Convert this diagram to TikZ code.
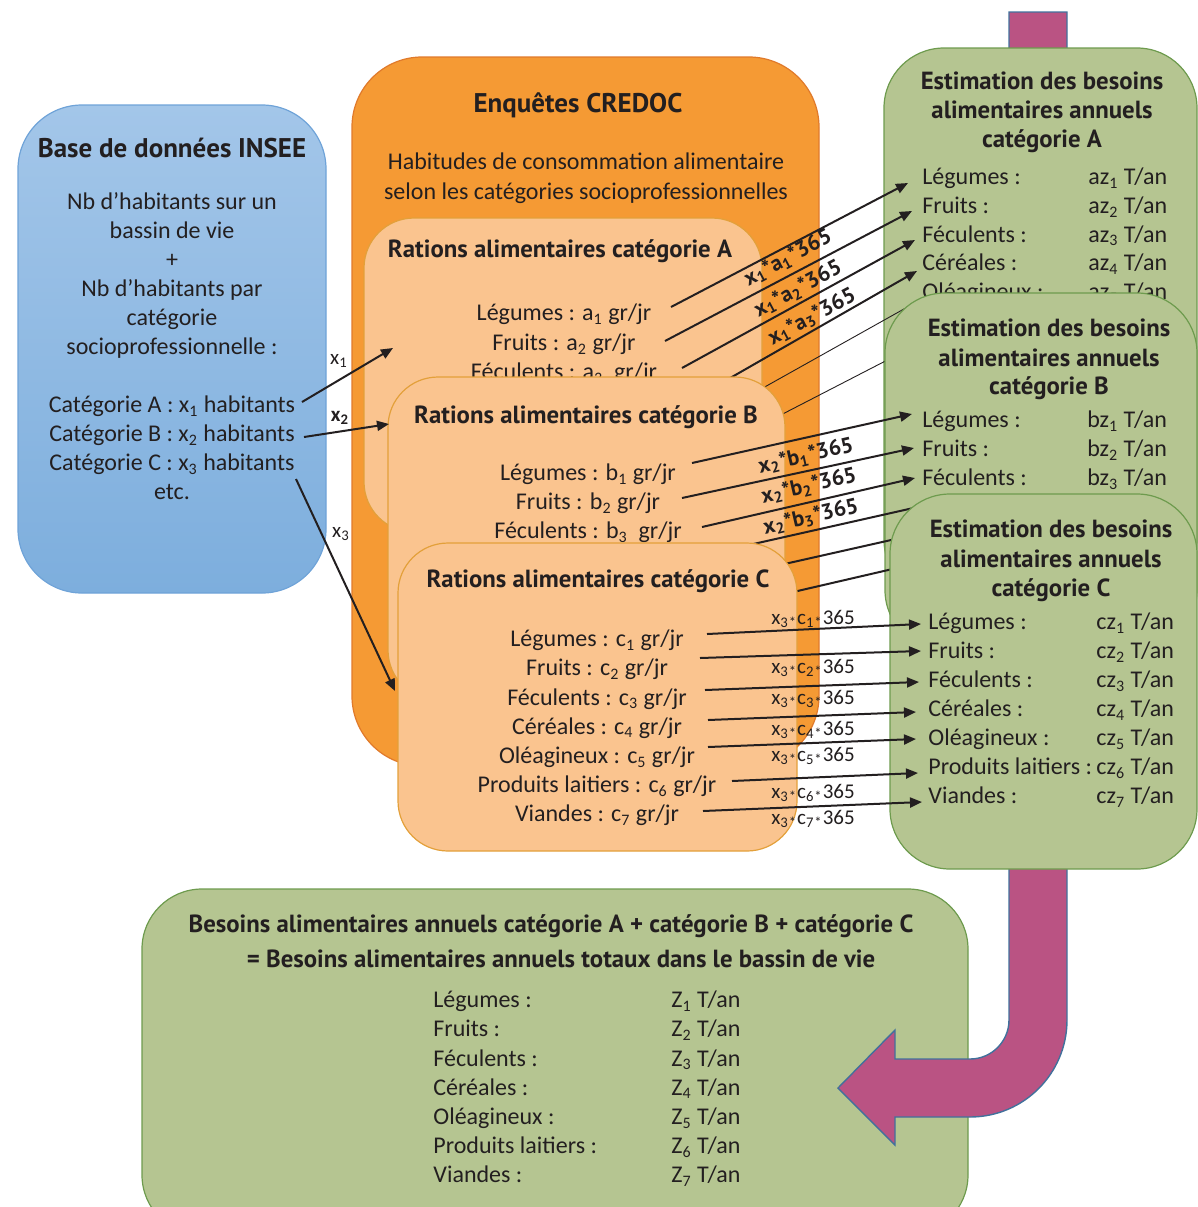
\documentclass[tikz,border=0pt]{standalone}
\usepackage{fontspec}
\setmainfont{Carlito}
\newfontfamily\hfont{PT Sans}
\usetikzlibrary{arrows.meta}
\definecolor{txt}{HTML}{231F20}
\definecolor{btop}{HTML}{A3C6E9}
\definecolor{bbot}{HTML}{7DAEDD}
\definecolor{bborder}{HTML}{6FA3D8}
\definecolor{ofill}{HTML}{F59A34}
\definecolor{oborder}{HTML}{E07A2B}
\definecolor{lofill}{HTML}{FAC48F}
\definecolor{loborder}{HTML}{E3A03A}
\definecolor{gfill}{HTML}{B5C591}
\definecolor{gborder}{HTML}{6E9B4E}
\definecolor{pfill}{HTML}{BA5383}
\definecolor{pborder}{HTML}{41719C}
\newcommand{\sbs}[1]{\textsubscript{#1}}
\begin{document}
\begin{tikzpicture}[x=0.5pt,y=-0.5pt,
  body/.style={font=\fontsize{12}{14.5}\selectfont,text=txt,inner sep=0pt,anchor=mid,yshift=-1.5pt},
  bodyl/.style={body,anchor=mid west},
  hd/.style={font=\hfont\bfseries\fontsize{12.4}{14.5}\selectfont,text=txt,inner sep=0pt,anchor=mid,yshift=-2.5pt},
  hdbig/.style={hd,font=\hfont\bfseries\fontsize{13.5}{15}\selectfont},
  lblA/.style={font=\hfont\bfseries\fontsize{11}{12}\selectfont,text=txt,inner sep=0pt},
  lblC/.style={font=\fontsize{10.5}{11}\selectfont,text=txt,inner sep=0pt},
  gbox/.style={draw=gborder,fill=gfill,line width=0.6pt,rounded corners=30pt},
  lobox/.style={draw=loborder,fill=lofill,line width=0.6pt,rounded corners=25pt},
  arr/.style={draw=txt,line width=1pt,-{Triangle[length=6pt,width=5pt]}},
  ln/.style={draw=txt,line width=1pt},
  thinln/.style={draw=txt,line width=0.45pt}]
\useasboundingbox (0,0) rectangle (1198,1207);
\clip (0,0) rectangle (1198,1207);

% ---------- bottom box ----------
\path[gbox] (142,889) rectangle (968,1235);
\node[hd] (tot1) at (551,923) {Besoins alimentaires annuels catégorie A + catégorie B + catégorie C};
\node[hd] (tot2) at (561,958) {= Besoins alimentaires annuels totaux dans le bassin de vie};
\foreach \l/\v [count=\i from 0] in {Légumes :/1,Fruits :/2,Féculents :/3,Céréales :/4,Oléagineux :/5,Produits laitiers :/6,Viandes :/7}{
  \node[bodyl] (zl\v) at (433,1000+29.2*\i) {\l};
  \node[bodyl] (zv\v) at (671,1000+29.2*\i) {Z\sbs{\v} T/an};
}

% ---------- pink arrow ----------
\path[draw=pborder,fill=pfill,line width=0.7pt,line join=miter]
  (1009,12) -- (1009,1020) .. controls (1009,1041.5) and (991.5,1059) .. (970,1059)
  -- (895,1059) -- (895,1030) -- (838,1088) -- (895,1145) -- (895,1117) -- (970,1117)
  .. controls (1023.6,1117) and (1067,1073.6) .. (1067,1020) -- (1067,12) -- cycle;

% ---------- blue box ----------
\path[draw=bborder,top color=btop,bottom color=bbot,line width=0.6pt,rounded corners=32pt]
  (18,105) rectangle (326,593);
\node[hdbig] (insee) at (172,148) {Base de données INSEE};
\foreach \t [count=\i from 0] in {{Nb d’habitants sur un},{bassin de vie},{+},{Nb d’habitants par},{catégorie},{socioprofessionnelle :},{},{Catégorie A : x\sbs{1} habitants},{Catégorie B : x\sbs{2} habitants},{Catégorie C : x\sbs{3} habitants},{etc.}}{
  \node[body] (bl\i) at (172,202+29*\i) {\t};
}

% ---------- orange box ----------
\path[draw=oborder,fill=ofill,line width=0.6pt,rounded corners=35pt] (352,57) rectangle (819,766);
\node[hdbig] (credoc) at (578,103) {Enquêtes CREDOC};
\node[body] (hab1) at (586,162) {Habitudes de consommation alimentaire};
\node[body] (hab2) at (586,192) {selon les catégories socioprofessionnelles};

% ---------- ration A ----------
\path[lobox] (364,218) rectangle (762,532);
\node[hd] (rA) at (560,248) {Rations alimentaires catégorie A};
\node[body] (rA1) at (564,313) {Légumes : a\sbs{1} gr/jr};
\node[body] (rA2) at (564,343) {Fruits : a\sbs{2} gr/jr};
\node[body] (rA3) at (564,372) {Féculents : a\sbs{3}~ gr/jr};

% ---------- green A ----------
\path[gbox] (884,48) rectangle (1197,600);
\node[hd] (gA1) at (1042,80) {Estimation des besoins};
\node[hd] (gA2) at (1042,109) {alimentaires annuels};
\node[hd] (gA3) at (1042,138) {catégorie A};
\foreach \l/\v [count=\i from 0] in {Légumes :/1,Fruits :/2,Féculents :/3,Céréales :/4,Oléagineux :/5}{
  \node[bodyl] (gAl\v) at (922,177+28.7*\i) {\l};
  \node[bodyl] (gAv\v) at (1088,177+28.7*\i) {az\sbs{\v} T/an};
}

% ---------- arrows A ----------
\coordinate (a1s) at (671,307); \coordinate (a1e) at (908,183);
\coordinate (a2s) at (665,341); \coordinate (a2e) at (912,211);
\coordinate (a3s) at (682,368); \coordinate (a3e) at (915,240);
\coordinate (a4s) at (690,401); \coordinate (a4e) at (917,271);
\coordinate (a5s) at (720,412); \coordinate (a5e) at (920,300);
\coordinate (a6s) at (740,436); \coordinate (a6e) at (930,338);
\draw[arr] (a1s) -- (a1e);
\draw[arr] (a2s) -- (a2e);
\draw[arr] (a3s) -- (a3e);
\draw[arr] (a4s) -- (a4e);
\draw[thinln] (a5s) -- (a5e);
\draw[thinln] (a6s) -- (a6e);
\node[lblA,rotate=28] (la1) at (788,258) {x\sbs{1}*a\sbs{1}*365};
\node[lblA,rotate=28] (la2) at (798,289) {x\sbs{1}*a\sbs{2}*365};
\node[lblA,rotate=28] (la3) at (812,317) {x\sbs{1}*a\sbs{3}*365};

% ---------- ration B ----------
\path[lobox] (388,377) rectangle (785,700);
\node[hd] (rB) at (586,414) {Rations alimentaires catégorie B};
\node[body] (rB1) at (588,473) {Légumes : b\sbs{1} gr/jr};
\node[body] (rB2) at (588,502) {Fruits : b\sbs{2} gr/jr};
\node[body] (rB3) at (588,531) {Féculents : b\sbs{3}~ gr/jr};

% ---------- green B ----------
\path[gbox] (885,293) rectangle (1197,650);
\node[hd] (gB1) at (1049,327) {Estimation des besoins};
\node[hd] (gB2) at (1049,357) {alimentaires annuels};
\node[hd] (gB3) at (1049,385) {catégorie B};
\foreach \l/\v [count=\i from 0] in {Légumes :/1,Fruits :/2,Féculents :/3}{
  \node[bodyl] (gBl\v) at (922,420+29*\i) {\l};
  \node[bodyl] (gBv\v) at (1087,420+29*\i) {bz\sbs{\v} T/an};
}

% ---------- arrows B ----------
\coordinate (b1s) at (692,463); \coordinate (b1e) at (912,414);
\coordinate (b2s) at (682,498); \coordinate (b2e) at (914,448);
\coordinate (b3s) at (702,527); \coordinate (b3e) at (915,478);
\coordinate (b4s) at (700,556); \coordinate (b4e) at (940,502);
\coordinate (b5s) at (740,574); \coordinate (b5e) at (940,529);
\coordinate (b6s) at (750,602); \coordinate (b6e) at (940,558);
\draw[arr] (b1s) -- (b1e);
\draw[arr] (b2s) -- (b2e);
\draw[arr] (b3s) -- (b3e);
\draw[ln] (b4s) -- (b4e);
\draw[ln] (b5s) -- (b5e);
\draw[ln] (b6s) -- (b6e);
\node[lblA,rotate=13] (lb1) at (806,456) {x\sbs{2}*b\sbs{1}*365};
\node[lblA,rotate=13] (lb2) at (809,486) {x\sbs{2}*b\sbs{2}*365};
\node[lblA,rotate=13] (lb3) at (811,517) {x\sbs{2}*b\sbs{3}*365};

% ---------- ration C ----------
\path[lobox] (398,543) rectangle (797,851);
\node[hd] (rC) at (598,578) {Rations alimentaires catégorie C};
\foreach \l/\v [count=\i from 0] in {Légumes/1,Fruits/2,Féculents/3,Céréales/4,Oléagineux/5,Produits laitiers/6,Viandes/7}{
  \node[body] (rC\v) at (597,639+29.2*\i) {\l{} : c\sbs{\v} gr/jr};
}

% ---------- green C ----------
\path[gbox] (890,494) rectangle (1197,869);
\node[hd] (gC1) at (1051,528) {Estimation des besoins};
\node[hd] (gC2) at (1051,558) {alimentaires annuels};
\node[hd] (gC3) at (1051,587) {catégorie C};
\foreach \l/\v [count=\i from 0] in {Légumes :/1,Fruits :/2,Féculents :/3,Céréales :/4,Oléagineux :/5,Produits laitiers :/6,Viandes :/7}{
  \node[bodyl] (gCl\v) at (928,622+29*\i) {\l};
  \node[bodyl] (gCv\v) at (1096,622+29*\i) {cz\sbs{\v} T/an};
}

% ---------- arrows C ----------
\coordinate (c1s) at (707,634); \coordinate (c1e) at (921,624);
\coordinate (c2s) at (700,658); \coordinate (c2e) at (921,651);
\coordinate (c3s) at (705,690); \coordinate (c3e) at (919,682);
\coordinate (c4s) at (708,720); \coordinate (c4e) at (916,712);
\coordinate (c5s) at (708,747); \coordinate (c5e) at (916,739);
\coordinate (c6s) at (732,781); \coordinate (c6e) at (918,773);
\coordinate (c7s) at (703,811); \coordinate (c7e) at (922,802);
\foreach \k in {1,...,7}{ \draw[arr] (c\k s) -- (c\k e); }
\foreach \k/\y in {1/619,2/668,3/699,4/730,5/756,6/793,7/819}{
  \node[lblC] (lc\k) at (813,\y) {x\sbs{3}\textsubscript{*}c\sbs{\k}\textsubscript{*}365};
}

% ---------- arrows from INSEE ----------
\coordinate (x1s) at (302,402); \coordinate (x1e) at (393,348);
\coordinate (x2s) at (304,437); \coordinate (x2e) at (389,424);
\coordinate (x3s) at (296,479); \coordinate (x3e) at (395,691);
\draw[arr] (x1s) -- (x1e);
\draw[arr] (x2s) -- (x2e);
\draw[arr] (x3s) -- (x3e);
\node[lblC] (lx1) at (339,361) {x\sbs{1}};
\node[lblC,font=\bfseries\fontsize{10.5}{11}\selectfont] (lx2) at (340,418) {x\sbs{2}};
\node[lblC] (lx3) at (341,534) {x\sbs{3}};
\end{tikzpicture}
\end{document}
